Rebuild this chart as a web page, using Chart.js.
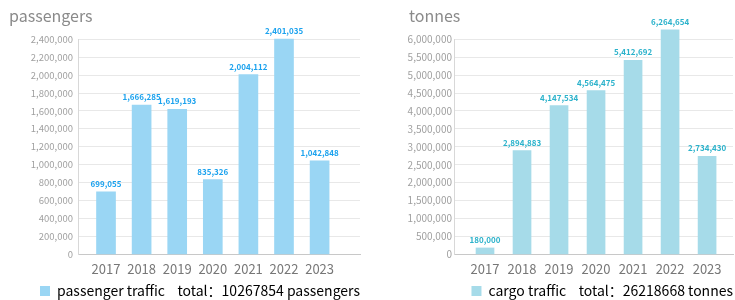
<!DOCTYPE html>
<html>
<head>
<meta charset="utf-8">
<script src="https://cdn.jsdelivr.net/npm/chart.js@4/dist/chart.umd.min.js"></script>
<style>
  html, body { margin: 0; padding: 0; background: #fff; }
  body { width: 735px; height: 300px; position: relative; overflow: hidden; }
  .box { position: absolute; top: 0; height: 300px; }
  #b1 { left: 0; width: 362px; }
  #b2 { left: 390px; width: 345px; }
</style>
</head>
<body>
<div class="box" id="b1"><canvas id="c1"></canvas></div>
<div class="box" id="b2"><canvas id="c2"></canvas></div>
<script>
const years = ['2017', '2018', '2019', '2020', '2021', '2022', '2023'];
const passengerValues = [699055, 1666285, 1619193, 835326, 2004112, 2401035, 1042848];
const cargoValues = [180000, 2894883, 4147534, 4564475, 5412692, 6264654, 2734430];
const passengerTicks = [0, 200000, 400000, 600000, 800000, 1000000, 1200000, 1400000, 1600000, 1800000, 2000000, 2200000, 2400000];
const cargoTicks = [0, 500000, 1000000, 1500000, 2000000, 2500000, 3000000, 3500000, 4000000, 4500000, 5000000, 5500000, 6000000];
const passengerTitle = 'passengers';
const cargoTitle = 'tonnes';
const passengerLegend = 'passenger traffic    total\uFF1A10267854 passengers';
const cargoLegend = 'cargo traffic    total\uFF1A26218668 tonnes';

const FONT = "'Noto Sans CJK SC', 'Noto Sans', sans-serif";
const fmt = v => Number(v).toLocaleString('en-US');

const valueLabels = {
  id: 'valueLabels',
  afterLayout(chart, args, opts) {
    if (chart.titleBlock && opts.titleShift) {
      chart.titleBlock.left += opts.titleShift;
      chart.titleBlock.right += opts.titleShift;
    }
  },
  afterDatasetsDraw(chart, args, opts) {
    const ctx = chart.ctx;
    const meta = chart.getDatasetMeta(0);
    const data = chart.data.datasets[0].data;
    ctx.save();
    ctx.font = "bold 8px " + FONT;
    ctx.fillStyle = opts.color;
    ctx.textAlign = 'center';
    ctx.textBaseline = 'bottom';
    meta.data.forEach((bar, i) => {
      ctx.fillText(fmt(data[i].y), bar.x, bar.y - 4);
    });
    ctx.restore();
  }
};

function makeChart(id, values, ticks, title, legendText, barColor, labelColor, xMin, xMax, padLeft, yAxisWidth, yFont, yPad, titleShift, barW) {
  return new Chart(document.getElementById(id), {
    type: 'bar',
    data: {
      datasets: [{
        label: legendText,
        data: values.map((v, i) => ({ x: i, y: v })),
        backgroundColor: barColor,
        borderWidth: 0,
        barThickness: barW,
        clip: false
      }]
    },
    options: {
      responsive: true,
      maintainAspectRatio: false,
      animation: false,
      layout: { padding: { left: padLeft, right: 2, top: 2, bottom: -8 } },
      plugins: {
        title: {
          display: true, text: title, align: 'start', color: '#8a8a8a',
          font: { family: FONT, size: 16, weight: 'normal' },
          padding: { top: 4, bottom: 14 }
        },
        legend: {
          display: true, position: 'bottom', align: 'end',
          labels: {
            color: '#8a8a8a', boxWidth: 10, boxHeight: 10, padding: 0,
            font: { family: FONT, size: 14 },
            generateLabels: () => [{ text: legendText, fillStyle: barColor, strokeStyle: barColor, lineWidth: 0, datasetIndex: 0 }]
          }
        },
        tooltip: { enabled: false },
        valueLabels: { color: labelColor, titleShift: titleShift }
      },
      scales: {
        x: {
          type: 'linear', min: xMin, max: xMax, offset: false,
          afterBuildTicks: s => { s.ticks = years.map((y, i) => ({ value: i })); },
          ticks: {
            callback: v => years[v] !== undefined ? years[v] : '',
            color: '#777', font: { family: FONT, size: 13 }, padding: 7, autoSkip: false, maxRotation: 0
          },
          grid: { display: false, drawTicks: false },
          border: { display: true, color: '#c8c8c8', width: 1 }
        },
        y: {
          min: 0, max: ticks[ticks.length - 1],
          afterBuildTicks: s => { s.ticks = ticks.map(v => ({ value: v })); },
          afterFit: s => { s.width = yAxisWidth; },
          ticks: {
            callback: v => fmt(v),
            color: '#a0a0a0', font: { family: FONT, size: yFont }, padding: yPad
          },
          grid: { color: '#e8e8e8', drawTicks: false },
          border: { display: true, color: '#d8d8d8', width: 1 }
        }
      }
    },
    plugins: [valueLabels]
  });
}

makeChart('c1', passengerValues, passengerTicks, passengerTitle, passengerLegend, '#9ad6f4', '#1ba2ee', -0.787, 7.135, 9, 69, 9.5, 5, 0, 19);
makeChart('c2', cargoValues, cargoTicks, cargoTitle, cargoLegend, '#a6dbe9', '#2bb2cb', -0.838, 6.70, 6, 58, 10, 2, 13, 18);
</script>
</body>
</html>
